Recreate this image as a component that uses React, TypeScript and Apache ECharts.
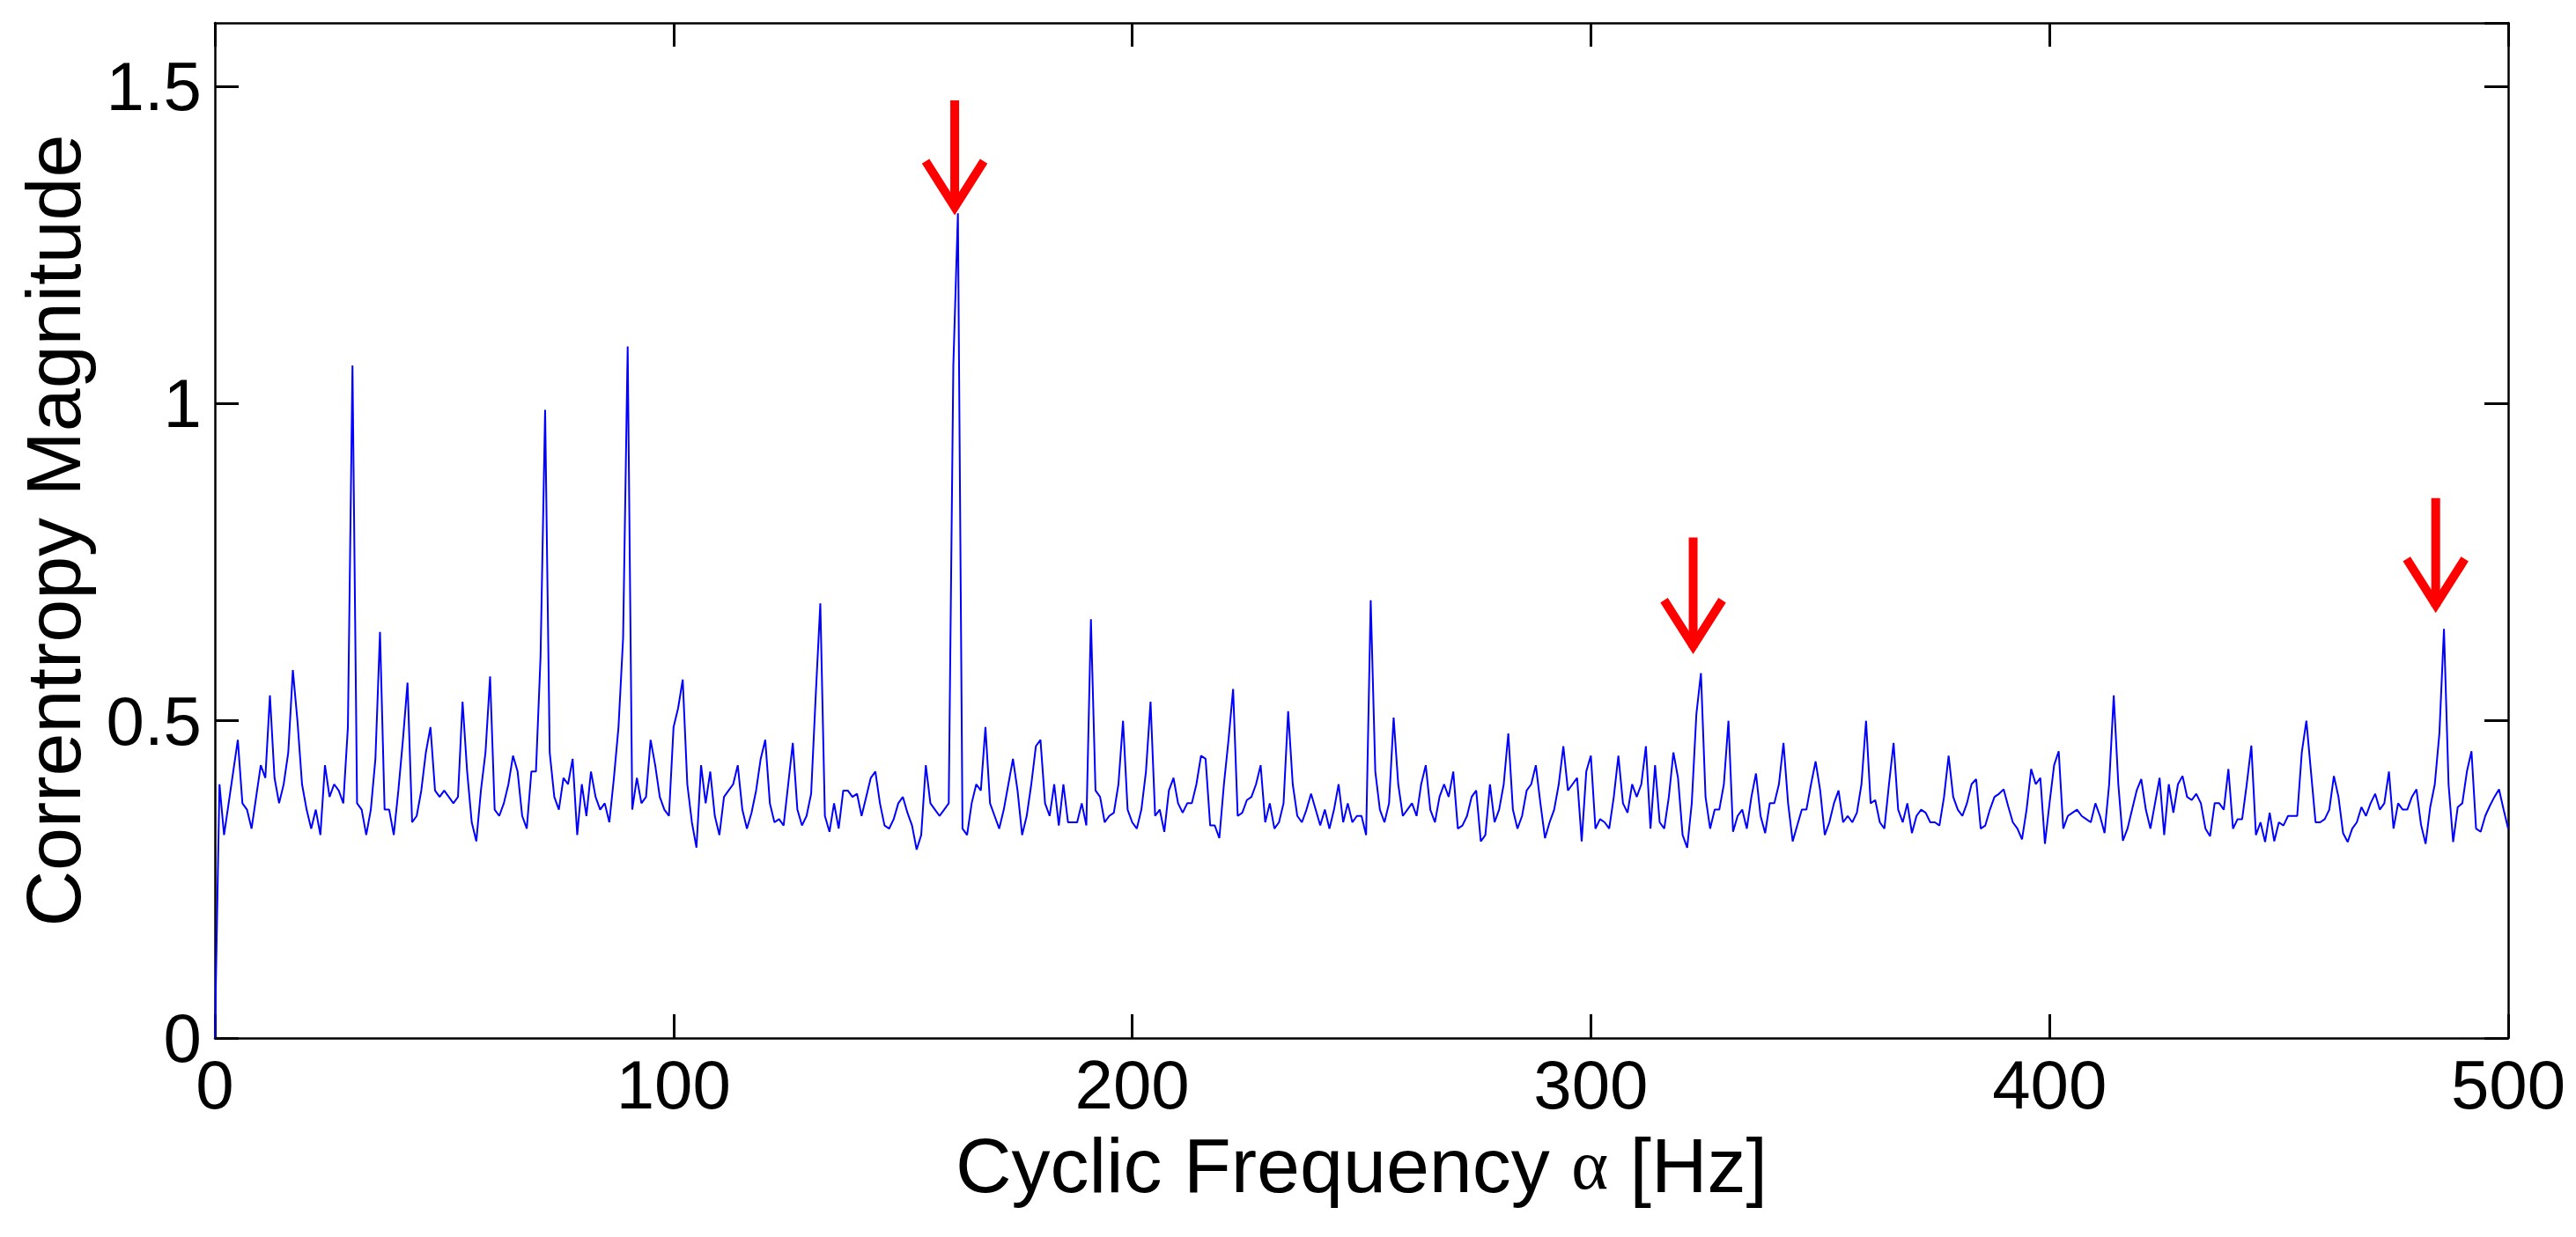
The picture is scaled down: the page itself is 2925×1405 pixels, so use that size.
import React, { useEffect, useRef } from "react";
import * as echarts from "echarts";

// Cyclic frequency step (Hz) between samples
const FREQ_STEP = 1;

// Correntropy magnitude, one value per Hz from 0 to 500 Hz
const MAGNITUDE: number[] = [
  0.0, 0.40, 0.32, 0.37, 0.42, 0.47, 0.37, 0.36, 0.33, 0.38,
  0.43, 0.41, 0.54, 0.41, 0.37, 0.40, 0.45, 0.58, 0.50, 0.40,
  0.36, 0.33, 0.36, 0.32, 0.43, 0.38, 0.40, 0.39, 0.37, 0.49,
  1.06, 0.37, 0.36, 0.32, 0.36, 0.44, 0.64, 0.36, 0.36, 0.32,
  0.39, 0.47, 0.56, 0.34, 0.35, 0.39, 0.45, 0.49, 0.39, 0.38,
  0.39, 0.38, 0.37, 0.38, 0.53, 0.42, 0.34, 0.31, 0.39, 0.45,
  0.57, 0.36, 0.35, 0.37, 0.40, 0.445, 0.42, 0.35, 0.33, 0.42,
  0.42, 0.60, 0.99, 0.45, 0.38, 0.36, 0.41, 0.40, 0.44, 0.32,
  0.40, 0.35, 0.42, 0.38, 0.36, 0.37, 0.34, 0.41, 0.49, 0.63,
  1.09, 0.36, 0.41, 0.37, 0.38, 0.47, 0.43, 0.38, 0.36, 0.35,
  0.49, 0.52, 0.565, 0.40, 0.34, 0.30, 0.43, 0.37, 0.42, 0.35,
  0.32, 0.38, 0.39, 0.40, 0.43, 0.36, 0.33, 0.355, 0.39, 0.44,
  0.47, 0.37, 0.34, 0.345, 0.335, 0.40, 0.465, 0.36, 0.335, 0.35,
  0.385, 0.54, 0.685, 0.35, 0.325, 0.37, 0.33, 0.39, 0.39, 0.38,
  0.385, 0.35, 0.38, 0.41, 0.42, 0.37, 0.335, 0.33, 0.345, 0.37,
  0.38, 0.355, 0.335, 0.297, 0.32, 0.43, 0.37, 0.36, 0.35, 0.36,
  0.37, 1.06, 1.30, 0.33, 0.32, 0.37, 0.40, 0.39, 0.49, 0.37,
  0.35, 0.33, 0.36, 0.40, 0.44, 0.39, 0.32, 0.35, 0.40, 0.46,
  0.47, 0.37, 0.35, 0.40, 0.335, 0.40, 0.34, 0.34, 0.34, 0.37,
  0.335, 0.66, 0.39, 0.38, 0.34, 0.35, 0.355, 0.40, 0.50, 0.36,
  0.34, 0.33, 0.36, 0.42, 0.53, 0.35, 0.36, 0.325, 0.39, 0.41,
  0.37, 0.355, 0.37, 0.37, 0.40, 0.445, 0.44, 0.335, 0.335, 0.315,
  0.40, 0.47, 0.55, 0.35, 0.355, 0.375, 0.38, 0.40, 0.43, 0.34,
  0.37, 0.33, 0.34, 0.37, 0.515, 0.40, 0.35, 0.34, 0.36, 0.385,
  0.36, 0.335, 0.36, 0.33, 0.36, 0.40, 0.34, 0.37, 0.34, 0.35,
  0.35, 0.32, 0.69, 0.42, 0.36, 0.34, 0.37, 0.505, 0.40, 0.35,
  0.36, 0.37, 0.35, 0.40, 0.43, 0.36, 0.34, 0.38, 0.40, 0.38,
  0.42, 0.33, 0.335, 0.35, 0.38, 0.39, 0.31, 0.32, 0.40, 0.34,
  0.36, 0.40, 0.48, 0.36, 0.33, 0.35, 0.39, 0.40, 0.43, 0.37,
  0.315, 0.34, 0.36, 0.40, 0.46, 0.39, 0.40, 0.41, 0.31, 0.42,
  0.445, 0.33, 0.345, 0.34, 0.33, 0.38, 0.445, 0.37, 0.355, 0.40,
  0.38, 0.40, 0.46, 0.33, 0.43, 0.34, 0.33, 0.38, 0.45, 0.41,
  0.32, 0.30, 0.37, 0.51, 0.575, 0.38, 0.33, 0.36, 0.36, 0.40,
  0.50, 0.325, 0.35, 0.36, 0.33, 0.38, 0.417, 0.35, 0.323, 0.37,
  0.37, 0.40, 0.465, 0.37, 0.31, 0.335, 0.36, 0.36, 0.40, 0.436,
  0.39, 0.32, 0.34, 0.37, 0.39, 0.34, 0.35, 0.34, 0.355, 0.40,
  0.50, 0.37, 0.375, 0.34, 0.33, 0.40, 0.465, 0.36, 0.34, 0.37,
  0.323, 0.35, 0.36, 0.355, 0.34, 0.34, 0.335, 0.38, 0.445, 0.38,
  0.36, 0.35, 0.37, 0.40, 0.408, 0.33, 0.335, 0.36, 0.38, 0.385,
  0.392, 0.365, 0.34, 0.33, 0.313, 0.36, 0.424, 0.40, 0.41, 0.306,
  0.37, 0.43, 0.452, 0.33, 0.35, 0.355, 0.36, 0.35, 0.345, 0.34,
  0.37, 0.35, 0.323, 0.40, 0.54, 0.40, 0.311, 0.33, 0.36, 0.39,
  0.408, 0.36, 0.33, 0.37, 0.41, 0.32, 0.40, 0.355, 0.40, 0.413,
  0.38, 0.375, 0.385, 0.37, 0.33, 0.318, 0.37, 0.37, 0.36, 0.424,
  0.33, 0.345, 0.345, 0.40, 0.461, 0.32, 0.34, 0.309, 0.355, 0.31,
  0.34, 0.335, 0.35, 0.35, 0.35, 0.45, 0.50, 0.42, 0.34, 0.34,
  0.345, 0.36, 0.413, 0.38, 0.323, 0.309, 0.33, 0.34, 0.364, 0.35,
  0.37, 0.385, 0.36, 0.37, 0.42, 0.33, 0.37, 0.36, 0.36, 0.38,
  0.392, 0.336, 0.306, 0.364, 0.40, 0.48, 0.645, 0.40, 0.309, 0.364,
  0.37, 0.42, 0.452, 0.33, 0.325, 0.35, 0.366, 0.38, 0.392, 0.36,
  0.33,
];

// Red arrow annotations: frequency, shaft top value, tip value
const ARROW_FREQ = [161.3, 322.3, 484.2];
const ARROW_TOP = [1.478, 0.789, 0.851];
const ARROW_TIP = [1.296, 0.604, 0.669];

const X_TICKS_MIN = 0;
const X_TICKS_MAX = 500;
const X_TICK_STEP = 100;
const Y_MIN = 0;
const Y_MAX = 1.6;
const Y_TICK_STEP = 0.5;

const X_TITLE = "Cyclic Frequency {a|α} [Hz]";
const Y_TITLE = "Correntropy Magnitude";

const FONT = "'Liberation Sans', Arial, Helvetica, sans-serif";

export default function App() {
  const ref = useRef<HTMLDivElement>(null);

  useEffect(() => {
    if (!ref.current) return;
    const chart = echarts.init(ref.current, undefined, { renderer: "svg" });

    const lineData = MAGNITUDE.map((v, i) => [i * FREQ_STEP, v]);
    const arrowData = ARROW_FREQ.map((f, i) => [f, ARROW_TOP[i], ARROW_TIP[i]]);

    const axisLineStyle = { color: "#000", width: 2.5 };
    const tickStyle = { color: "#000", width: 3 };

    const option: any = {
      animation: false,
      backgroundColor: "#fff",
      grid: { left: 244, top: 26, width: 2604, height: 1153, containLabel: false },
      xAxis: [
        {
          type: "value",
          position: "bottom",
          min: X_TICKS_MIN,
          max: X_TICKS_MAX,
          interval: X_TICK_STEP,
          axisLine: { show: true, onZero: false, lineStyle: axisLineStyle },
          axisTick: { show: true, inside: true, length: 27, lineStyle: tickStyle },
          splitLine: { show: false },
          axisLabel: {
            show: true,
            margin: 14,
            fontSize: 78,
            fontFamily: FONT,
            color: "#000",
          },
          name: X_TITLE,
          nameLocation: "middle",
          nameGap: 100,
          nameTextStyle: {
            fontSize: 88,
            fontFamily: FONT,
            color: "#000",
            rich: {
              a: { fontSize: 80, fontFamily: "'Liberation Serif', 'DejaVu Serif', serif", color: "#000" },
            },
          },
        },
        {
          type: "value",
          position: "top",
          min: X_TICKS_MIN,
          max: X_TICKS_MAX,
          interval: X_TICK_STEP,
          axisLine: { show: true, onZero: false, lineStyle: axisLineStyle },
          axisTick: { show: true, inside: true, length: 27, lineStyle: tickStyle },
          splitLine: { show: false },
          axisLabel: { show: false },
        },
      ],
      yAxis: [
        {
          type: "value",
          position: "left",
          min: Y_MIN,
          max: Y_MAX,
          interval: Y_TICK_STEP,
          axisLine: { show: true, onZero: false, lineStyle: axisLineStyle },
          axisTick: { show: true, inside: true, length: 27, lineStyle: tickStyle },
          splitLine: { show: false },
          axisLabel: {
            show: true,
            margin: 15,
            fontSize: 78,
            fontFamily: FONT,
            color: "#000",
            showMaxLabel: false,
          },
          name: Y_TITLE,
          nameLocation: "middle",
          nameGap: 140,
          nameTextStyle: { fontSize: 88, fontFamily: FONT, color: "#000" },
        },
        {
          type: "value",
          position: "right",
          min: Y_MIN,
          max: Y_MAX,
          interval: Y_TICK_STEP,
          axisLine: { show: true, onZero: false, lineStyle: axisLineStyle },
          axisTick: { show: true, inside: true, length: 27, lineStyle: tickStyle },
          splitLine: { show: false },
          axisLabel: { show: false },
        },
      ],
      series: [
        {
          type: "line",
          xAxisIndex: 0,
          yAxisIndex: 0,
          data: lineData,
          showSymbol: false,
          symbol: "none",
          lineStyle: { color: "#0000ff", width: 2 },
          z: 3,
        },
        {
          type: "custom",
          xAxisIndex: 0,
          yAxisIndex: 0,
          data: arrowData,
          z: 4,
          renderItem: (params: any, api: any) => {
            const top = api.coord([api.value(0), api.value(1)]);
            const tip = api.coord([api.value(0), api.value(2)]);
            const x = tip[0];
            const headH = 62;
            const headW = 33;
            return {
              type: "group",
              children: [
                {
                  type: "line",
                  shape: { x1: x, y1: top[1], x2: x, y2: tip[1] - 8 },
                  style: { stroke: "#ff0000", lineWidth: 10 },
                },
                {
                  type: "polyline",
                  shape: {
                    points: [
                      [x - headW, tip[1] - headH],
                      [x, tip[1] - 10],
                      [x + headW, tip[1] - headH],
                    ],
                  },
                  style: { stroke: "#ff0000", lineWidth: 10, fill: null, lineJoin: "miter", miterLimit: 10 },
                },
              ],
            };
          },
        },
      ],
    };

    chart.setOption(option);
    return () => chart.dispose();
  }, []);

  return (
    <div
      ref={ref}
      style={{ position: "fixed", left: 0, top: 0, width: 2925, height: 1405, background: "#fff" }}
    />
  );
}
